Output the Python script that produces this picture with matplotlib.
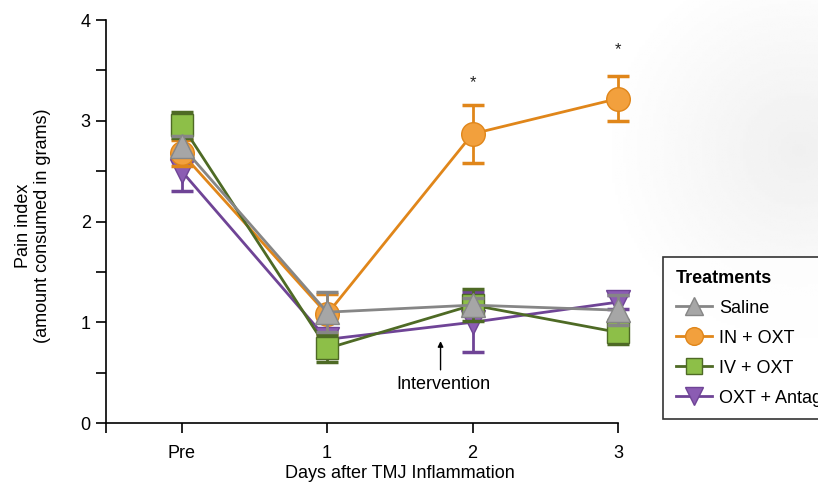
import matplotlib.pyplot as plt
import numpy as np

plt.rcParams['font.family'] = ['Liberation Sans', 'DejaVu Sans']

# Data
days = ['Pre', '1', '2', '3']
saline = [2.75, 1.10, 1.17, 1.12]
saline_err = [0.10, 0.20, 0.07, 0.15]
in_oxt = [2.68, 1.08, 2.87, 3.22]
in_oxt_err = [0.13, 0.20, 0.29, 0.22]
iv_oxt = [2.96, 0.74, 1.17, 0.90]
iv_oxt_err = [0.13, 0.13, 0.16, 0.12]
antag = [2.50, 0.83, 1.00, 1.20]
antag_err = [0.20, 0.08, 0.30, 0.07]
star_days = [2, 3]
star_y = [3.38, 3.71]

x = np.arange(len(days))

fig = plt.figure(figsize=(8.18, 4.84), dpi=100)

# faint grey backdrop on the right, like the slide behind the chart
bg = fig.add_axes([0, 0, 1, 1], zorder=-10)
gx, gy = np.meshgrid(np.linspace(0, 818, 300), np.linspace(0, 484, 200))
r = np.hypot(gx - 800, gy - 150) / 200
shade = 1 - 0.06 * np.clip(1 - r, 0, 1)
bg.imshow(shade, cmap='gray', vmin=0, vmax=1, extent=[0, 818, 484, 0],
          aspect='auto')
bg.set_xlim(0, 818)
bg.set_ylim(484, 0)
bg.axis('off')

ax = fig.add_axes([106 / 818, 61 / 484, 512 / 818, 403 / 484])
ax.patch.set_alpha(0)

series = [
    # label, values, err, marker, fill, line, zorder
    ('OXT + Antag', antag, antag_err, 'v', '#8b5cb3', '#6f4496', 3),
    ('IN + OXT', in_oxt, in_oxt_err, 'o', '#f2a03d', '#e0861a', 4),
    ('IV + OXT', iv_oxt, iv_oxt_err, 's', '#8dbf48', '#4e6a25', 5),
    ('Saline', saline, saline_err, '^', '#a6a6a6', '#868686', 6),
]

handles = {}
for label, vals, err, mk, fc, lc, z in series:
    ms = 16 if mk == 's' else 17
    eb = ax.errorbar(x, vals, yerr=err, fmt='none', ecolor=lc, elinewidth=2,
                     capsize=8, capthick=2.5, zorder=z)
    for art in eb.lines[1] + eb.lines[2]:
        art.set_clip_on(False)
    h, = ax.plot(x, vals, color=lc, lw=2, marker=mk, ms=ms,
                 markerfacecolor=fc, markeredgecolor=lc, markeredgewidth=1,
                 zorder=z + 0.5, label=label, clip_on=False)
    handles[label] = h

for d, yy in zip(star_days, star_y):
    ax.text(d, yy, '*', ha='center', va='center', fontsize=12, color='#222222')

ax.annotate('', xy=(1.78, 0.84), xytext=(1.78, 0.5),
            arrowprops=dict(arrowstyle='-|>', color='black', lw=1,
                            mutation_scale=8))
ax.text(1.80, 0.38, 'Intervention', ha='center', va='center', fontsize=13)

ax.set_xlim(-0.52, 3.0)
ax.set_ylim(0, 4)
ax.set_xticks([-0.52, 0, 1, 2, 3])
ax.set_xticklabels(['', 'Pre', '1', '2', '3'], fontsize=13)
ax.set_yticks([0, 1, 2, 3, 4])
ax.set_yticks([0.5, 1.5, 2.5, 3.5], minor=True)
ax.tick_params(axis='y', which='both', length=7, width=1.2, labelsize=13,
               pad=4)
ax.tick_params(axis='x', length=7, width=1.2, pad=9)
for s in ['top', 'right']:
    ax.spines[s].set_visible(False)
for s in ['left', 'bottom']:
    ax.spines[s].set_linewidth(1.2)

ax.set_xlabel('Days after TMJ Inflammation', fontsize=13)
ax.xaxis.set_label_coords(0.574, -0.105)
ax.set_ylabel('Pain index\n(amount consumed in grams)', fontsize=13)
ax.yaxis.set_label_coords(-0.107, 0.49)

order = ['Saline', 'IN + OXT', 'IV + OXT', 'OXT + Antag']
leg = fig.legend([handles[k] for k in order], order, title='Treatments',
                 loc='upper left', bbox_to_anchor=(663 / 818, 1 - 257 / 484),
                 frameon=True, fancybox=False, fontsize=13,
                 title_fontproperties={'weight': 'bold', 'size': 13},
                 handlelength=2.0, borderpad=0.7, labelspacing=0.72,
                 handletextpad=0.4, markerscale=0.75, borderaxespad=0)
leg._legend_box.align = 'left'
leg.get_frame().set_edgecolor('black')
leg.get_frame().set_linewidth(1.2)
leg.get_frame().set_facecolor('white')

fig.savefig('out.png', dpi=100)
